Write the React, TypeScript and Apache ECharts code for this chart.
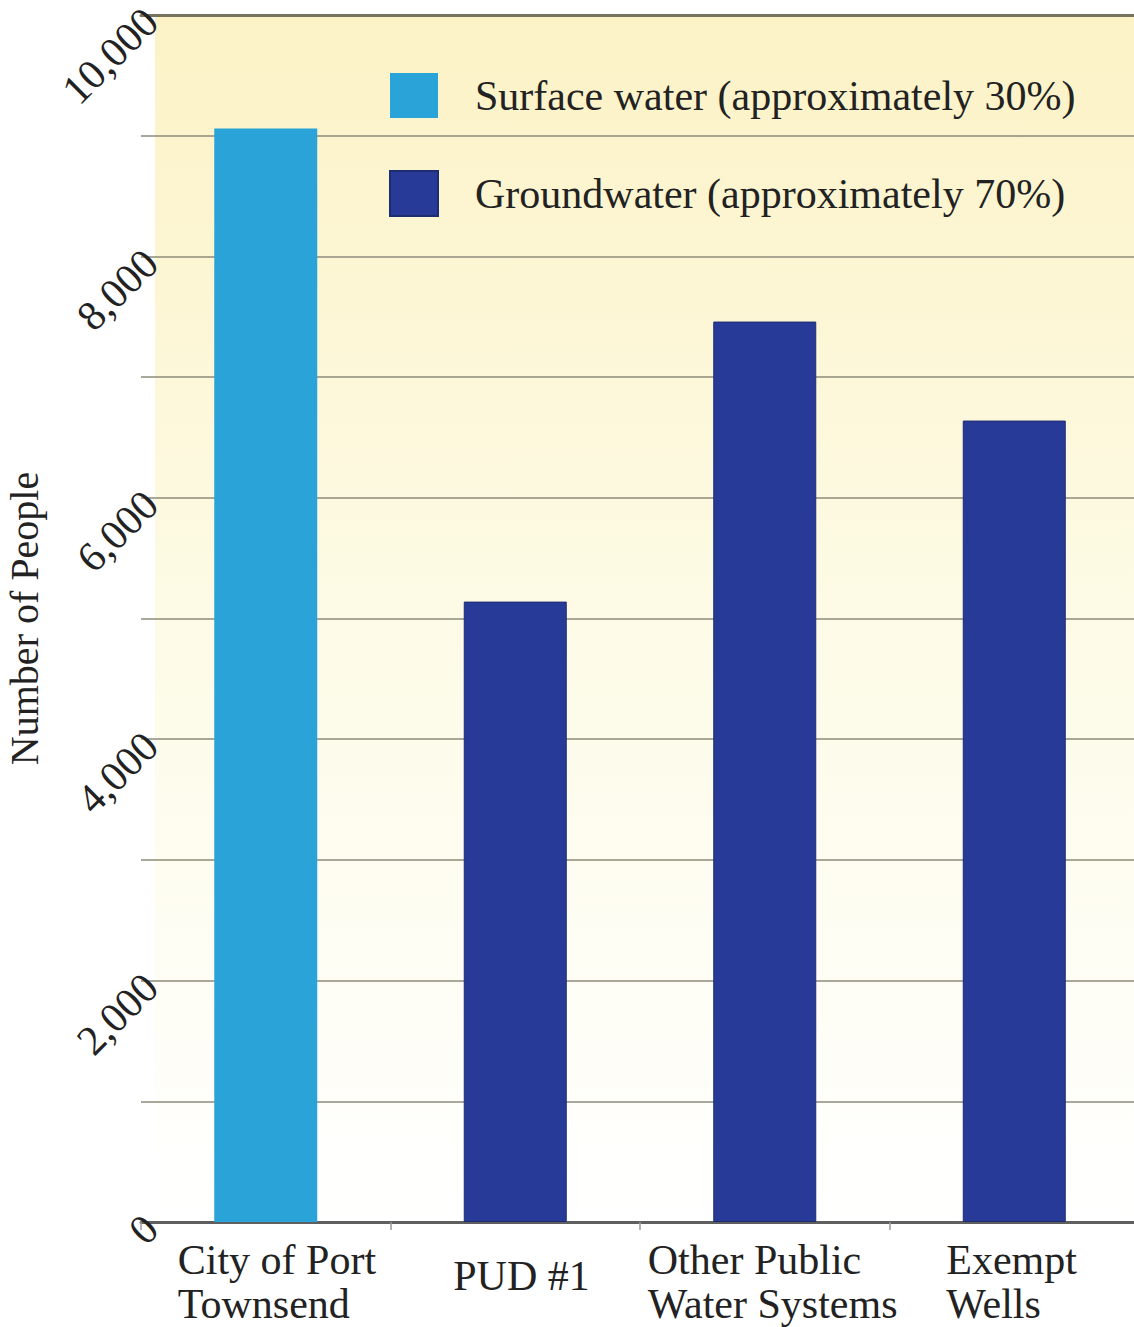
import React, { useEffect, useRef } from "react";
import * as echarts from "echarts";

const categories = ["City of Port\nTownsend", "PUD #1", "Other Public\nWater Systems", "Exempt\nWells"];
const surfaceWater = [9060, null, null, null];
const groundwater = [null, 5140, 7460, 6640];
const yTicks = [0, 2000, 4000, 6000, 8000, 10000];
const seriesNames = ["Surface water (approximately 30%)", "Groundwater (approximately 70%)"];

const labelWidths = [176, 124, 234, 136];

export default function App() {
  const ref = useRef<HTMLDivElement>(null);
  useEffect(() => {
    document.body.style.margin = "0";
    const chart = echarts.init(ref.current!, null, { renderer: "svg" });
    const font = "Liberation Serif";
    const rich: Record<string, any> = {};
    labelWidths.forEach((w, i) => {
      rich["c" + i] = {
        width: w,
        align: "left",
        fontFamily: font,
        fontSize: 42,
        color: "#222",
        lineHeight: i === 1 ? 76 : 44,
      };
    });
    chart.setOption({
      animation: false,
      backgroundColor: "#ffffff",
      textStyle: { fontFamily: font },
      graphic: [
        {
          type: "rect",
          z: -10,
          silent: true,
          shape: { x: 155, y: 15, width: 985, height: 1207 },
          style: {
            fill: new echarts.graphic.LinearGradient(0, 0, 0, 1, [
              { offset: 0, color: "#fcf2c6" },
              { offset: 0.5, color: "#fdfbe6" },
              { offset: 1, color: "#ffffff" },
            ]),
          },
        },
      ],
      legend: {
        orient: "vertical",
        left: 384,
        top: 68,
        itemWidth: 48,
        itemHeight: 45,
        itemGap: 52,
        icon: "rect",
        data: seriesNames,
        textStyle: {
          fontFamily: font,
          fontSize: 42,
          color: "#222",
          lineHeight: 45,
          padding: [0, 0, 0, 32],
        },
      },
      grid: {
        left: 141,
        right: -5,
        top: 15,
        bottom: 105,
        containLabel: false,
        outerBoundsMode: "none",
      },
      xAxis: [
        {
          type: "category",
          data: categories,
          axisLine: { show: true, lineStyle: { color: "#5f5f5f", width: 3 } },
          axisTick: { show: true, length: 8, lineStyle: { color: "#999", width: 1.5 } },
          axisLabel: {
            margin: 16,
            interval: 0,
            formatter: (v: string, i: number) =>
              v
                .split("\n")
                .map((l) => `{c${i}|${l}}`)
                .join("\n"),
            rich,
          },
        },
        {
          type: "category",
          position: "top",
          data: categories,
          axisLine: { show: true, lineStyle: { color: "#77735c", width: 3 } },
          axisTick: { show: false },
          axisLabel: { show: false },
        },
      ],
      yAxis: {
        type: "value",
        min: 0,
        max: 10000,
        interval: 1000,
        name: "Number of People",
        nameLocation: "middle",
        nameRotate: 90,
        nameGap: 96,
        nameTextStyle: { fontFamily: font, fontSize: 40, color: "#222" },
        axisLine: { show: false },
        axisTick: { show: false },
        splitLine: { show: true, lineStyle: { color: "#8c8b7a", width: 1.5 } },
        axisLabel: {
          rotate: 45,
          margin: -10,
          fontFamily: font,
          fontSize: 42,
          color: "#222",
          formatter: (v: number) => (yTicks.includes(v) ? v.toLocaleString("en-US") : ""),
        },
      },
      series: [
        {
          name: seriesNames[0],
          type: "bar",
          data: surfaceWater,
          barWidth: 103,
          barGap: "-100%",
          itemStyle: { color: "#2aa3d9" },
        },
        {
          name: seriesNames[1],
          type: "bar",
          data: groundwater,
          barWidth: 103,
          barGap: "-100%",
          itemStyle: { color: "#283a97", borderColor: "#1e2c70", borderWidth: 1 },
        },
      ],
    });
    return () => chart.dispose();
  }, []);
  return <div ref={ref} style={{ width: 1134, height: 1327 }} />;
}
